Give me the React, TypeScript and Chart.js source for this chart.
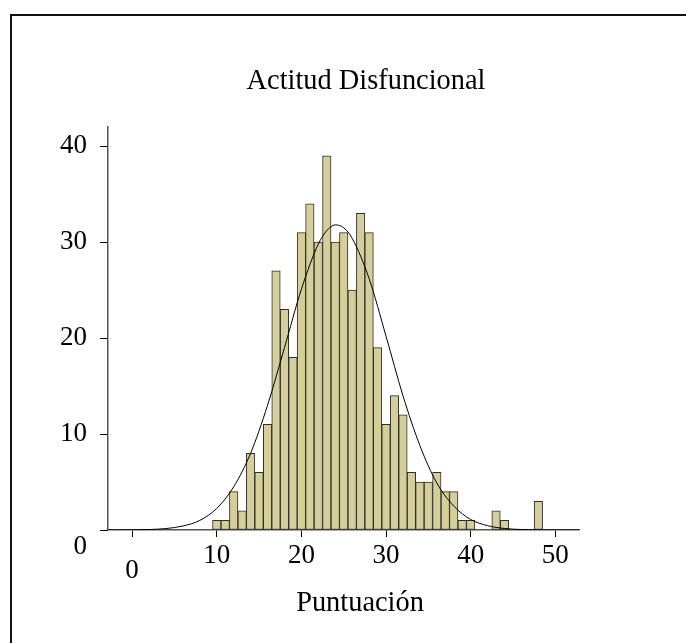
import React, { useEffect, useRef } from 'react';
import { Chart, registerables } from 'chart.js';

Chart.register(...registerables);

// Histogram bins (bin centres, width 1) and their counts
const binCenters = [10, 11, 12, 13, 14, 15, 16, 17, 18, 19, 20, 21, 22, 23, 24, 25, 26, 27, 28, 29, 30, 31, 32, 33, 34, 35, 36, 37, 38, 39, 40, 43, 44, 48];
const binCounts = [1, 1, 4, 2, 8, 6, 11, 27, 23, 18, 31, 34, 30, 39, 30, 31, 25, 33, 31, 19, 11, 14, 12, 6, 5, 5, 6, 4, 4, 1, 1, 2, 1, 3];

// Fitted normal curve
const curveX = [-2.8, 0, 2, 4, 6, 8, 10, 12, 14, 16, 18, 20, 22, 23, 24, 25, 26, 28, 30, 32, 34, 36, 38, 40, 42, 44, 46, 48, 50, 52.8];
const curveY = [0, 0.02, 0.05, 0.15, 0.42, 1.0, 2.25, 4.5, 8.0, 13.0, 19.0, 25.1, 29.8, 31.2, 31.8, 31.5, 30.4, 26.2, 20.2, 14.0, 8.8, 4.9, 2.5, 1.1, 0.45, 0.16, 0.05, 0.02, 0, 0];

const xTicks = [0, 10, 20, 30, 40, 50];
const yTicks = [0, 10, 20, 30, 40];
const xMin = -2.85;
const xMax = 52.8;
const yMin = 0;
const yMax = 42;

const titleText = 'Actitud Disfuncional';
const xLabel = 'Puntuación';

const SERIF = '"Liberation Serif", "Times New Roman", serif';

const textPlugin = {
  id: 'staticTexts',
  afterDraw(chart: any) {
    const ctx = chart.ctx;
    ctx.save();
    ctx.fillStyle = '#000';
    ctx.font = `28.4px ${SERIF}`;
    ctx.textAlign = 'center';
    ctx.textBaseline = 'alphabetic';
    ctx.fillText(titleText, 366, 89);
    ctx.fillText(xLabel, 360, 611);
    ctx.restore();
  },
};

export default function App() {
  const canvasRef = useRef<HTMLCanvasElement | null>(null);

  useEffect(() => {
    if (!canvasRef.current) return;
    const barData = binCenters.map((x, i) => ({ x, y: binCounts[i] }));
    const lineData = curveX.map((x, i) => ({ x, y: curveY[i] }));

    const chart = new Chart(canvasRef.current, {
      type: 'bar',
      data: {
        datasets: [
          {
            type: 'line',
            data: lineData as any,
            borderColor: '#000',
            borderWidth: 1,
            pointRadius: 0,
            fill: false,
            cubicInterpolationMode: 'monotone',
            order: 0,
          } as any,
          {
            type: 'bar',
            data: barData as any,
            backgroundColor: 'rgb(212,207,153)',
            borderColor: '#2e2e2e',
            borderWidth: 1,
            borderSkipped: false,
            barPercentage: 1,
            categoryPercentage: 1,
            order: 1,
          } as any,
        ],
      },
      options: {
        responsive: false,
        animation: false,
        layout: { padding: { top: 127, left: 0, right: 107, bottom: 53 } },
        plugins: {
          legend: { display: false },
          tooltip: { enabled: false },
          title: { display: false },
        },
        scales: {
          x: {
            type: 'linear',
            min: xMin,
            max: xMax,
            offset: false,
            afterBuildTicks: (scale: any) => {
              scale.ticks = xTicks.map((v) => ({ value: v }));
            },
            afterFit: (scale: any) => {
              scale.height = 60;
            },
            grid: {
              offset: false,
              drawOnChartArea: false,
              drawTicks: true,
              tickLength: 7,
              color: '#000',
            },
            border: { display: true, color: '#555', width: 1.5 },
            ticks: {
              autoSkip: false,
              maxRotation: 0,
              padding: 11,
              color: '#000',
              font: { family: SERIF, size: 27, lineHeight: 0.56 },
              callback: (v: any) => (v === 0 ? ['', '0'] : String(v)),
            },
          },
          y: {
            type: 'linear',
            min: yMin,
            max: yMax,
            afterBuildTicks: (scale: any) => {
              scale.ticks = yTicks.map((v) => ({ value: v }));
            },
            afterFit: (scale: any) => {
              scale.width = 108;
            },
            grid: {
              offset: false,
              drawOnChartArea: false,
              drawTicks: true,
              tickLength: 8,
              color: '#000',
            },
            border: { display: true, color: '#555', width: 1.5 },
            ticks: {
              autoSkip: false,
              padding: 13,
              color: '#000',
              font: { family: SERIF, size: 27, lineHeight: 1.26 },
              callback: (v: any) => (v === 0 ? ['', '0'] : String(v)),
            },
          },
        },
      },
      plugins: [textPlugin],
    });
    return () => chart.destroy();
  }, []);

  return (
    <div style={{ position: 'fixed', left: 0, top: 0, width: 686, height: 643, background: '#fff' }}>
      <div
        style={{
          position: 'absolute',
          left: 10,
          top: 14,
          width: 700,
          height: 700,
          borderTop: '2px solid #111',
          borderLeft: '2px solid #111',
        }}
      />
      <canvas
        ref={canvasRef}
        width={686}
        height={643}
        style={{ position: 'absolute', left: 0, top: 0, width: 686, height: 643 }}
      />
    </div>
  );
}
